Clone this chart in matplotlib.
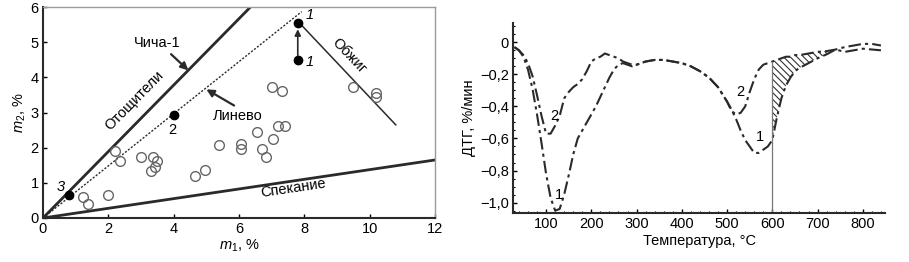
import numpy as np
import matplotlib
matplotlib.use("Agg")
import matplotlib.pyplot as plt
from matplotlib.ticker import FuncFormatter, MultipleLocator

plt.rcParams['font.family'] = ['Liberation Sans', 'DejaVu Sans']
plt.rcParams['mathtext.fontset'] = 'custom'
plt.rcParams['mathtext.it'] = 'Liberation Sans:italic'
plt.rcParams['mathtext.rm'] = 'Liberation Sans'
plt.rcParams['hatch.linewidth'] = 0.8

# --- left chart: m1 / m2 ---
m1_open = [1.23, 1.39, 2.0, 2.2, 2.36, 3.0, 3.36, 3.48, 3.3, 3.44, 4.65, 4.96, 5.4,
           6.05, 6.05, 6.54, 6.71, 6.82, 7.03, 7.2, 7.41, 7.0, 7.31, 9.5, 10.19, 10.21]
m2_open = [0.60, 0.40, 0.66, 1.91, 1.61, 1.74, 1.74, 1.61, 1.35, 1.45, 1.20, 1.37, 2.07,
           2.11, 1.96, 2.45, 1.96, 1.73, 2.25, 2.63, 2.61, 3.74, 3.62, 3.72, 3.55, 3.44]
m1_fill = [7.8, 7.8, 4.0, 0.8]
m2_fill = [5.55, 4.5, 2.93, 0.65]
fill_labels = ['1', '1', '2', '3']

line_otosh = ([0, 6.35], [0, 6.0])     # Отощители (Чича-1)
line_linevo = ([0, 7.92], [0, 5.87])   # Линево
line_spek = ([0, 12], [0, 1.65])       # Спекание
line_obzhig = ([7.9, 10.8], [5.5, 2.65])  # Обжиг

# --- right chart: DTG curves ---
temp = [30, 40, 50, 60, 70, 80, 90, 100, 110, 120, 130, 140, 150, 160, 170, 180, 190,
        200, 210, 220, 230, 240, 250, 260, 270, 280, 290, 300, 320, 340, 360, 380, 400,
        420, 440, 460, 480, 500, 510, 520, 530, 540, 550, 560, 570, 580, 590, 600, 610,
        620, 630, 640, 650, 660, 680, 700, 720, 740, 760, 780, 800, 820, 840]
dtg1 = [-0.03, -0.05, -0.09, -0.17, -0.29, -0.45, -0.63, -0.82, -0.97, -1.05, -1.04,
        -0.95, -0.83, -0.70, -0.60, -0.55, -0.50, -0.45, -0.40, -0.34, -0.28, -0.22,
        -0.17, -0.14, -0.13, -0.14, -0.15, -0.14, -0.12, -0.11, -0.11, -0.12, -0.13,
        -0.15, -0.18, -0.22, -0.28, -0.37, -0.42, -0.48, -0.55, -0.61, -0.65, -0.69,
        -0.69, -0.67, -0.65, -0.61, -0.47, -0.35, -0.27, -0.22, -0.18, -0.16, -0.13,
        -0.10, -0.075, -0.045, -0.06, -0.05, -0.04, -0.045, -0.05]
dtg2 = [-0.03, -0.05, -0.08, -0.13, -0.21, -0.33, -0.46, -0.57, -0.57, -0.52, -0.46,
        -0.35, -0.31, -0.28, -0.26, -0.23, -0.18, -0.12, -0.10, -0.09, -0.07, -0.08,
        -0.09, -0.10, -0.12, -0.13, -0.14, -0.14, -0.12, -0.11, -0.11, -0.12, -0.13,
        -0.15, -0.18, -0.22, -0.28, -0.37, -0.43, -0.45, -0.44, -0.40, -0.31, -0.23,
        -0.17, -0.14, -0.13, -0.12, -0.11, -0.10, -0.09, -0.09, -0.08, -0.08, -0.07,
        -0.06, -0.055, -0.045, -0.03, -0.02, -0.01, -0.01, -0.02]

fig = plt.figure(figsize=(9.09, 2.62), dpi=100)
ax1 = fig.add_axes([0.0473, 0.168, 0.4312, 0.805])
ax2 = fig.add_axes([0.5644, 0.187, 0.4092, 0.725])

fs = 10.5
dark = '#2a2a2a'
arrow_kw = dict(arrowstyle='-|>', color=dark, lw=1.6, mutation_scale=11, shrinkA=0, shrinkB=0)

# left
ax1.plot(*line_otosh, color=dark, lw=2.0)
ax1.plot(*line_linevo, color=dark, lw=1.0, ls=(0, (1.5, 1.2)))
ax1.plot(*line_spek, color=dark, lw=2.0)
ax1.plot(*line_obzhig, color=dark, lw=1.1)
ax1.plot(m1_open, m2_open, 'o', mfc='none', mec='#666666', ms=7, mew=1.0)
ax1.plot(m1_fill, m2_fill, 'o', color='black', ms=6)
ax1.annotate('', xy=(m1_fill[0], m2_fill[0] - 0.18), xytext=(m1_fill[1], m2_fill[1] + 0.12),
             arrowprops=dict(arrowstyle='-|>', color=dark, lw=1.2, mutation_scale=9,
                             shrinkA=0, shrinkB=0))
ax1.text(8.05, 5.78, fill_labels[0], fontsize=fs, style='italic', ha='left', va='center')
ax1.text(8.05, 4.45, fill_labels[1], fontsize=fs, style='italic', ha='left', va='center')
ax1.text(3.96, 2.49, fill_labels[2], fontsize=fs, ha='center', va='center')
ax1.text(0.54, 0.88, fill_labels[3], fontsize=fs, style='italic', ha='center', va='center')

ax1.text(3.5, 4.98, 'Чича-1', fontsize=fs, ha='center', va='center')
ax1.annotate('', xy=(4.45, 4.2), xytext=(3.92, 4.66), arrowprops=arrow_kw)
ax1.text(5.95, 2.9, 'Линево', fontsize=fs, ha='center', va='center')
ax1.annotate('', xy=(5.0, 3.66), xytext=(5.85, 3.2), arrowprops=arrow_kw)
ax1.text(2.8, 3.33, 'Отощители', fontsize=fs, rotation=45.5, ha='center', va='center',
         rotation_mode='anchor')
ax1.text(9.38, 4.62, 'Обжиг', fontsize=fs, rotation=-46.5, ha='center', va='center',
         rotation_mode='anchor')
ax1.text(7.66, 0.84, 'Спекание', fontsize=fs, rotation=8.4, ha='center', va='center',
         rotation_mode='anchor')

ax1.set_xlim(0, 12)
ax1.set_ylim(0, 6)
ax1.set_xticks(range(0, 13, 2))
ax1.set_yticks(range(0, 7))
ax1.tick_params(direction='in', length=3, labelsize=fs, width=1, pad=3)
ax1.set_xlabel(r'$m_1$, %', fontsize=fs, labelpad=1)
ax1.set_ylabel(r'$m_2$, %', fontsize=fs, labelpad=2)
for s in ['left', 'bottom']:
    ax1.spines[s].set_linewidth(1.5)
    ax1.spines[s].set_color(dark)
for s in ['top', 'right']:
    ax1.spines[s].set_linewidth(1.0)
    ax1.spines[s].set_color('#9a9a9a')

# right
ax2.plot(temp, dtg1, color=dark, lw=1.5, ls=(0, (6, 2, 1.5, 2)))
ax2.plot(temp, dtg2, color=dark, lw=1.5, ls=(0, (6, 2, 1.5, 2)))
t = np.array(temp)
mask = (t >= 600) & (t <= 740)
ax2.fill_between(t[mask], np.array(dtg1)[mask], np.array(dtg2)[mask],
                 facecolor='none', edgecolor='#333333', hatch='\\\\\\\\\\', lw=0)
ax2.plot([600, 600], [-1.065, dtg2[temp.index(600)]], color='#777777', lw=0.9)
ax2.text(118, -0.46, '2', fontsize=fs, ha='center', va='center')
ax2.text(129, -0.955, '1', fontsize=fs, ha='center', va='center')
ax2.text(529, -0.31, '2', fontsize=fs, ha='center', va='center')
ax2.text(573, -0.59, '1', fontsize=fs, ha='center', va='center')

ax2.set_xlim(27, 849)
ax2.set_ylim(-1.065, 0.12)
ax2.set_xticks(range(100, 801, 100))
ax2.xaxis.set_minor_locator(MultipleLocator(20))
ax2.set_yticks([0, -0.2, -0.4, -0.6, -0.8, -1.0])
ax2.yaxis.set_minor_locator(MultipleLocator(0.05))
ax2.yaxis.set_major_formatter(FuncFormatter(
    lambda v, p: '0' if abs(v) < 1e-9 else f'{v:.1f}'.replace('.', ',').replace('-', '\u2212')))
ax2.tick_params(which='major', direction='in', length=3, labelsize=fs, width=1, pad=3)
ax2.tick_params(which='minor', direction='in', length=1.5, width=0.8)
ax2.set_xlabel('Температура, °С', fontsize=fs, labelpad=2)
ax2.set_ylabel('ДТГ, %/мин', fontsize=fs, labelpad=3)
for s in ['top', 'right']:
    ax2.spines[s].set_visible(False)
for s in ['left', 'bottom']:
    ax2.spines[s].set_linewidth(1.5)
    ax2.spines[s].set_color(dark)

fig.savefig('out.png', dpi=100)
